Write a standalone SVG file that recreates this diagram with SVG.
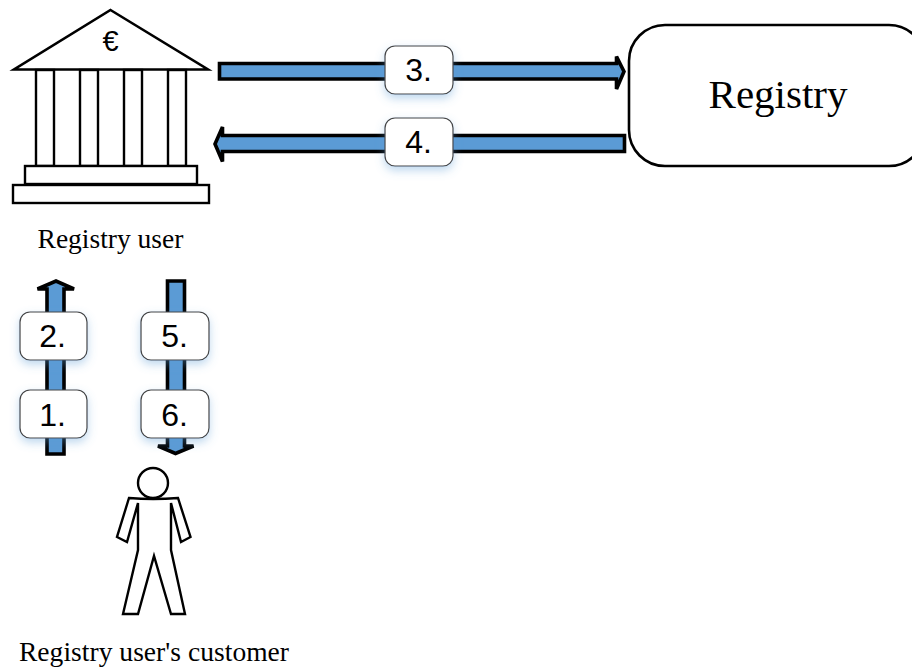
<svg xmlns="http://www.w3.org/2000/svg" width="912" height="669" viewBox="0 0 912 669">
<defs>
<filter id="glow" x="-30%" y="-30%" width="160%" height="170%"><feDropShadow dx="0" dy="4" stdDeviation="5" flood-color="#5b9bd5" flood-opacity="0.4"/></filter>
</defs>
<style>
.a{fill:#5b9bd5;stroke:#000;stroke-width:3.6;stroke-linejoin:miter}
.b{fill:#fff;stroke:#000;stroke-width:2.6}
.p{fill:#fff;stroke:#000;stroke-width:2.4}
.n{fill:#fff;stroke:#444;stroke-width:1.2;filter:url(#glow)}
.l{font-family:"Liberation Sans",Arial,sans-serif;font-size:32px;text-anchor:middle;fill:#000}
.s{font-family:"Liberation Serif","Times New Roman",serif;fill:#000;text-anchor:middle}
</style>
<rect width="912" height="669" fill="#fff"/>
<g id="connectors">
<path id="arrow3" class="a" d="M219.500 63.500H616.500V56.500L624 71.500L616.500 89V79H219.500Z"/>
<path id="arrow4" class="a" d="M624.500 135.500H222.500V127L215 144L222.500 161.500V151.500H624.500Z"/>
<path id="arrow2" class="a" d="M47 454V289H37.500L56 281L74 289H64V454Z"/>
<path id="arrow5" class="a" d="M167.500 281H184.500V446H193.500L175.500 453.500L158 446H167.500Z"/>
</g>
<g id="bank">
<path class="b" d="M110.500 10L208 69.500H14Z"/>
<text x="110.500" y="51" font-family="Liberation Sans,sans-serif" font-size="29" text-anchor="middle">€</text>
<rect class="p" x="36" y="70" width="18" height="96"/>
<rect class="p" x="80" y="70" width="18" height="96"/>
<rect class="p" x="124" y="70" width="18" height="96"/>
<rect class="p" x="168" y="70" width="18" height="96"/>
<rect class="p" x="25" y="166" width="172" height="18"/>
<rect class="p" x="13" y="185" width="196" height="18"/>
<text class="s" x="110.500" y="248" font-size="27.500">Registry user</text>
</g>
<g id="registry">
<rect class="b" x="629" y="25" width="296" height="141" rx="36"/>
<text class="s" x="778" y="108" font-size="41">Registry</text>
</g>
<g id="customer">
<path class="p" d="M129 498Q153 500 178 498L190.500 537L181 542L171 503V550L185 614H171L154 556L138 614H123L138 550V503L127 542L117 537Z"/>
<circle class="p" cx="153" cy="483" r="15"/>
<text class="s" x="154" y="660.500" font-size="27.500" textLength="270">Registry user's customer</text>
</g>
<g id="label-1"><rect class="n" x="20" y="390" width="67" height="48" rx="10"/><text class="l" x="52.500" y="426">1.</text></g>
<g id="label-2"><rect class="n" x="20" y="312" width="67" height="48" rx="10"/><text class="l" x="52.500" y="347">2.</text></g>
<g id="label-3"><rect class="n" x="385" y="46" width="68" height="48" rx="10"/><text class="l" x="418.500" y="81">3.</text></g>
<g id="label-4"><rect class="n" x="385" y="118" width="68" height="48" rx="10"/><text class="l" x="418.500" y="153">4.</text></g>
<g id="label-5"><rect class="n" x="141" y="312" width="68" height="48" rx="10"/><text class="l" x="174.500" y="347">5.</text></g>
<g id="label-6"><rect class="n" x="141" y="390" width="68" height="48" rx="10"/><text class="l" x="174.500" y="426">6.</text></g>
</svg>
